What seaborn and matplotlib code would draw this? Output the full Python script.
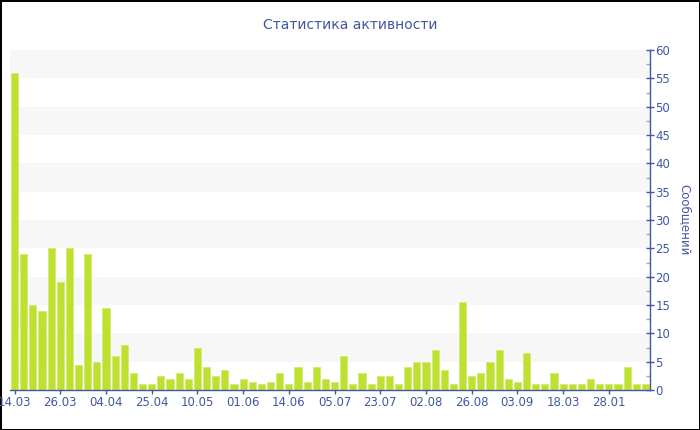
import matplotlib
matplotlib.use("Agg")
import matplotlib.pyplot as plt
import seaborn as sns
import numpy as np
import pandas as pd

# Data
messages = [56, 24, 15, 14, 25, 19, 25, 4.5, 24, 5,
            14.5, 6, 8, 3, 1, 1, 2.5, 2, 3, 2,
            7.5, 4, 2.5, 3.5, 1, 2, 1.5, 1, 1.5, 3,
            1, 4, 1.5, 4, 2, 1.5, 6, 1, 3, 1,
            2.5, 2.5, 1, 4, 5, 5, 7, 3.5, 1, 15.5,
            2.5, 3, 5, 7, 2, 1.5, 6.5, 1, 1, 3,
            1, 1, 1, 2, 1, 1, 1, 4, 1, 1]
tick_labels = ['14.03', '26.03', '04.04', '25.04', '10.05', '01.06', '14.06',
               '05.07', '23.07', '02.08', '26.08', '03.09', '18.03', '28.01']
tick_step = 5

df = pd.DataFrame({'idx': np.arange(len(messages)), 'value': messages})

blue = '#3f58a3'
bar_color = '#bde031'

sns.set_theme(style="white")
plt.rcParams['font.family'] = ['DejaVu Sans']

fig = plt.figure(figsize=(7, 4.3), dpi=100)
ax = fig.add_axes([10 / 700, 40 / 430, 640 / 700, 340 / 430])

# alternating bands
for lo in range(5, 60, 10):
    ax.axhspan(lo, lo + 5, color='#f7f7f7', zorder=0, lw=0)

sns.barplot(data=df, x='idx', y='value', color=bar_color, width=0.77,
            edgecolor='#d4ec76', linewidth=0.7, saturation=1, ax=ax, zorder=2)

ax.set_xlim(-0.5, len(messages) - 0.5)
ax.set_ylim(0, 60)

ax.set_xticks(np.arange(0, len(messages), tick_step))
ax.set_xticklabels(tick_labels)
ax.set_yticks(np.arange(0, 61, 5))
ax.set_yticks(np.arange(2.5, 60, 5), minor=True)

ax.yaxis.tick_right()
ax.yaxis.set_label_position('right')
ax.tick_params(axis='y', which='major', direction='inout', length=6, width=1,
               color=blue, labelcolor=blue, labelsize=8.5, pad=1, right=True)
ax.tick_params(axis='y', which='minor', direction='in', length=3, width=1,
               color='#9aa6c8', right=True)
ax.tick_params(axis='x', direction='out', length=3, width=1, color=blue,
               labelcolor=blue, labelsize=8.5, pad=1, bottom=True)

for side in ['top', 'left']:
    ax.spines[side].set_visible(False)
for side in ['right', 'bottom']:
    ax.spines[side].set_color(blue)
    ax.spines[side].set_linewidth(1)

ax.set_xlabel('')
ax.set_ylabel('Сообщений', color=blue, fontsize=8.5, rotation=270, labelpad=15)
fig.text(350 / 700, 1 - 25 / 430, 'Статистика активности', color=blue,
         fontsize=10, ha='center', va='center')

fig.patch.set_edgecolor('black')
fig.patch.set_linewidth(2)
fig.savefig('out.png', dpi=100, edgecolor='black')
